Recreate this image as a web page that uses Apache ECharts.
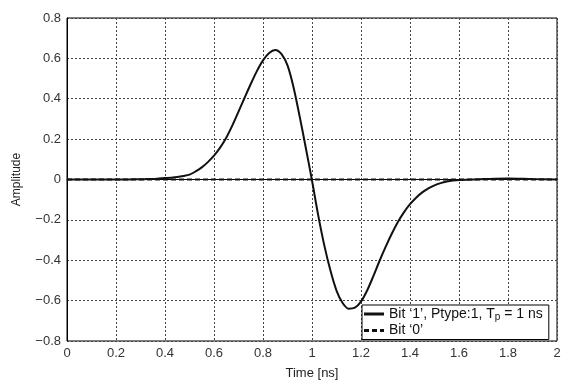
<!DOCTYPE html>
<html><head><meta charset="utf-8">
<script src="https://cdn.jsdelivr.net/npm/echarts@6/dist/echarts.min.js"></script>
<style>html,body{margin:0;padding:0;background:#fff}#c{width:581px;height:386px}</style>
</head><body><div id="c"></div>
<script>
const timeNs = [0, 0.1, 0.2, 0.25, 0.3, 0.325, 0.35, 0.375, 0.4, 0.425, 0.45, 0.475, 0.5, 0.525, 0.55, 0.575, 0.6, 0.625, 0.65, 0.675, 0.7, 0.725, 0.75, 0.775, 0.8, 0.825, 0.85, 0.875, 0.9, 0.925, 0.95, 0.975, 1.0, 1.025, 1.05, 1.075, 1.1, 1.125, 1.15, 1.175, 1.2, 1.225, 1.25, 1.275, 1.3, 1.325, 1.35, 1.375, 1.4, 1.425, 1.45, 1.475, 1.5, 1.525, 1.55, 1.575, 1.6, 1.7, 1.8, 1.9, 2.0];
const bit1 = [0, 0, 0, 0.0005, 0.001, 0.002, 0.003, 0.005, 0.007, 0.009, 0.012, 0.017, 0.024, 0.04, 0.06, 0.086, 0.118, 0.158, 0.207, 0.268, 0.336, 0.405, 0.473, 0.537, 0.59, 0.627, 0.642, 0.622, 0.565, 0.455, 0.31, 0.155, -0.005, -0.175, -0.325, -0.45, -0.55, -0.612, -0.64, -0.635, -0.605, -0.55, -0.48, -0.405, -0.335, -0.27, -0.212, -0.163, -0.122, -0.09, -0.064, -0.044, -0.029, -0.018, -0.01, -0.005, -0.002, 0.002, 0.005, 0.002, 0];
const bit0Time = [0, 2];
const bit0 = [0, 0];
const xTicks = [0, 0.2, 0.4, 0.6, 0.8, 1, 1.2, 1.4, 1.6, 1.8, 2];
const yTicks = [-0.8, -0.6, -0.4, -0.2, 0, 0.2, 0.4, 0.6, 0.8];

const font = 'Liberation Sans, Arial, sans-serif';
const gridLine = {show: true, lineStyle: {color: '#444', type: [2, 2], width: 1}};
const fmt = v => { const r = Math.round(v * 10) / 10; return r < 0 ? '\u2212' + String(-r) : String(r); };

const chart = echarts.init(document.getElementById('c'));
chart.setOption({
  animation: false,
  backgroundColor: '#fff',
  grid: {left: 67, right: 24, top: 18, bottom: 45, show: true, borderColor: '#000', borderWidth: 1},
  xAxis: {
    type: 'value', min: 0, max: 2, interval: 0.2,
    name: 'Time [ns]', nameLocation: 'middle', nameGap: 26,
    nameTextStyle: {fontFamily: font, fontSize: 13, color: '#222'},
    axisLine: {show: true, lineStyle: {color: '#000', width: 1}},
    axisTick: {show: false},
    axisLabel: {fontFamily: font, fontSize: 13, color: '#333', margin: 6, formatter: fmt},
    splitLine: gridLine
  },
  yAxis: {
    type: 'value', min: -0.8, max: 0.8, interval: 0.2,
    name: 'Amplitude', nameLocation: 'middle', nameGap: 44, nameRotate: 90,
    nameTextStyle: {fontFamily: font, fontSize: 12, color: '#222'},
    axisLine: {show: true, lineStyle: {color: '#000', width: 1}},
    axisTick: {show: false},
    axisLabel: {fontFamily: font, fontSize: 13, color: '#333', margin: 6, formatter: fmt},
    splitLine: gridLine
  },
  legend: {
    orient: 'vertical', left: 362, top: 305,
    backgroundColor: '#fff', borderColor: '#000', borderWidth: 1,
    padding: [2, 6, 2, 2], itemGap: 1, itemWidth: 20, itemHeight: 10,
    textStyle: {fontFamily: font, fontSize: 14, color: '#111',
      rich: {sub: {fontFamily: font, fontSize: 10, color: '#111', verticalAlign: 'bottom', padding: [7, 0, 0, 0]}}},
    formatter: n => n === 'b1' ? "Bit \u20181\u2019, Ptype:1, T{sub|p} = 1 ns" : "Bit \u20180\u2019",
    data: [
      {name: 'b1', icon: 'path://M0,4 L20,4 L20,7 L0,7 Z'},
      {name: 'b0', icon: 'path://M0,4 L5,4 L5,7 L0,7 Z M8,4 L13,4 L13,7 L8,7 Z M16,4 L20,4 L20,7 L16,7 Z'}
    ]
  },
  series: [
    {name: 'b1', type: 'line', data: timeNs.map((t, i) => [t, bit1[i]]), smooth: 0.3,
     showSymbol: false, symbol: 'none', lineStyle: {color: '#111', width: 2}, itemStyle: {color: '#111'}, z: 3},
    {name: 'b0', type: 'line', data: bit0Time.map((t, i) => [t, bit0[i]]),
     showSymbol: false, symbol: 'none', lineStyle: {color: '#111', width: 2, type: [5, 3]}, itemStyle: {color: '#111'}, z: 4}
  ]
});
</script></body></html>
